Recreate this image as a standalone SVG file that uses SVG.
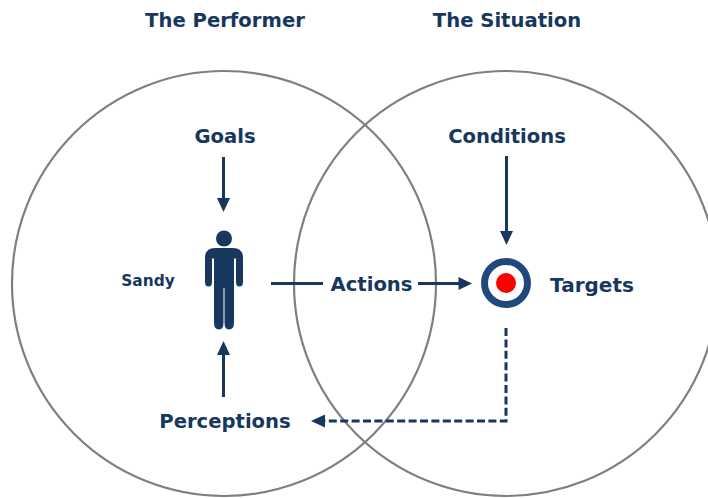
<svg xmlns="http://www.w3.org/2000/svg" width="708" height="498" viewBox="0 0 708 498">
<style>
.c{fill:none;stroke:#7f7f7f;stroke-width:2.2}
.t{font-family:"DejaVu Sans",Verdana,sans-serif;font-weight:700;fill:#17375e;font-size:19.600px;text-anchor:middle}
.l{fill:none;stroke:#17375e;stroke-width:3}
.h{fill:#17375e}
</style>
<rect width="708" height="498" fill="#fff"/>
<g id="circle-performer"><ellipse class="c" cx="224" cy="283.500" rx="212" ry="212.500"/></g>
<g id="circle-situation"><ellipse class="c" cx="506" cy="283.500" rx="212" ry="212.500"/></g>
<g id="title-performer"><text class="t" x="225" y="27">The Performer</text></g>
<g id="title-situation"><text class="t" x="507" y="27">The Situation</text></g>
<g id="connectors">
<path class="l" d="M223.500 157V200"/><path class="h" d="M217 198H230L223.500 212Z"/>
<path class="l" d="M223.500 397V354"/><path class="h" d="M217 355H230L223.500 341Z"/>
<path class="l" d="M506.500 156V232"/><path class="h" d="M500 231H513L506.500 245Z"/>
<path class="l" d="M271 283.500H323"/>
<path class="l" d="M418 283.500H460"/><path class="h" d="M458.500 277V290L472 283.500Z"/>
<path class="l" stroke-dasharray="8 3.400" d="M506 328V421H323"/><path class="h" d="M325 414.500V427.500L311 421Z"/>
</g>
<g id="goals"><text class="t" x="225" y="143">Goals</text></g>
<g id="conditions"><text class="t" x="507" y="143">Conditions</text></g>
<g id="actions"><text class="t" x="371.500" y="291">Actions</text></g>
<g id="targets"><text class="t" x="592" y="292" style="font-size:20px">Targets</text></g>
<g id="perceptions"><text class="t" x="225" y="428">Perceptions</text></g>
<g id="sandy"><text class="t" x="148" y="286" style="font-size:15.400px">Sandy</text></g>
<g id="person" fill="#17375e">
<circle cx="224" cy="238.500" r="8"/>
<path d="M215 248H233Q243 248 243 258V282Q243 286.500 239.500 286.500Q236 286.500 236 282V258.500H234V322.500Q234 329.500 229 329.500Q224.500 329.500 224.500 322.500V288H223.500V322.500Q223.500 329.500 219 329.500Q214 329.500 214 322.500V258.500H212V282Q212 286.500 208.500 286.500Q205 286.500 205 282V258Q205 248 215 248Z"/>
</g>
<g id="target">
<circle cx="506" cy="283" r="21.500" fill="#fff" stroke="#1f497d" stroke-width="7"/>
<circle cx="506" cy="283" r="10" fill="#ff0000"/>
</g>
</svg>
